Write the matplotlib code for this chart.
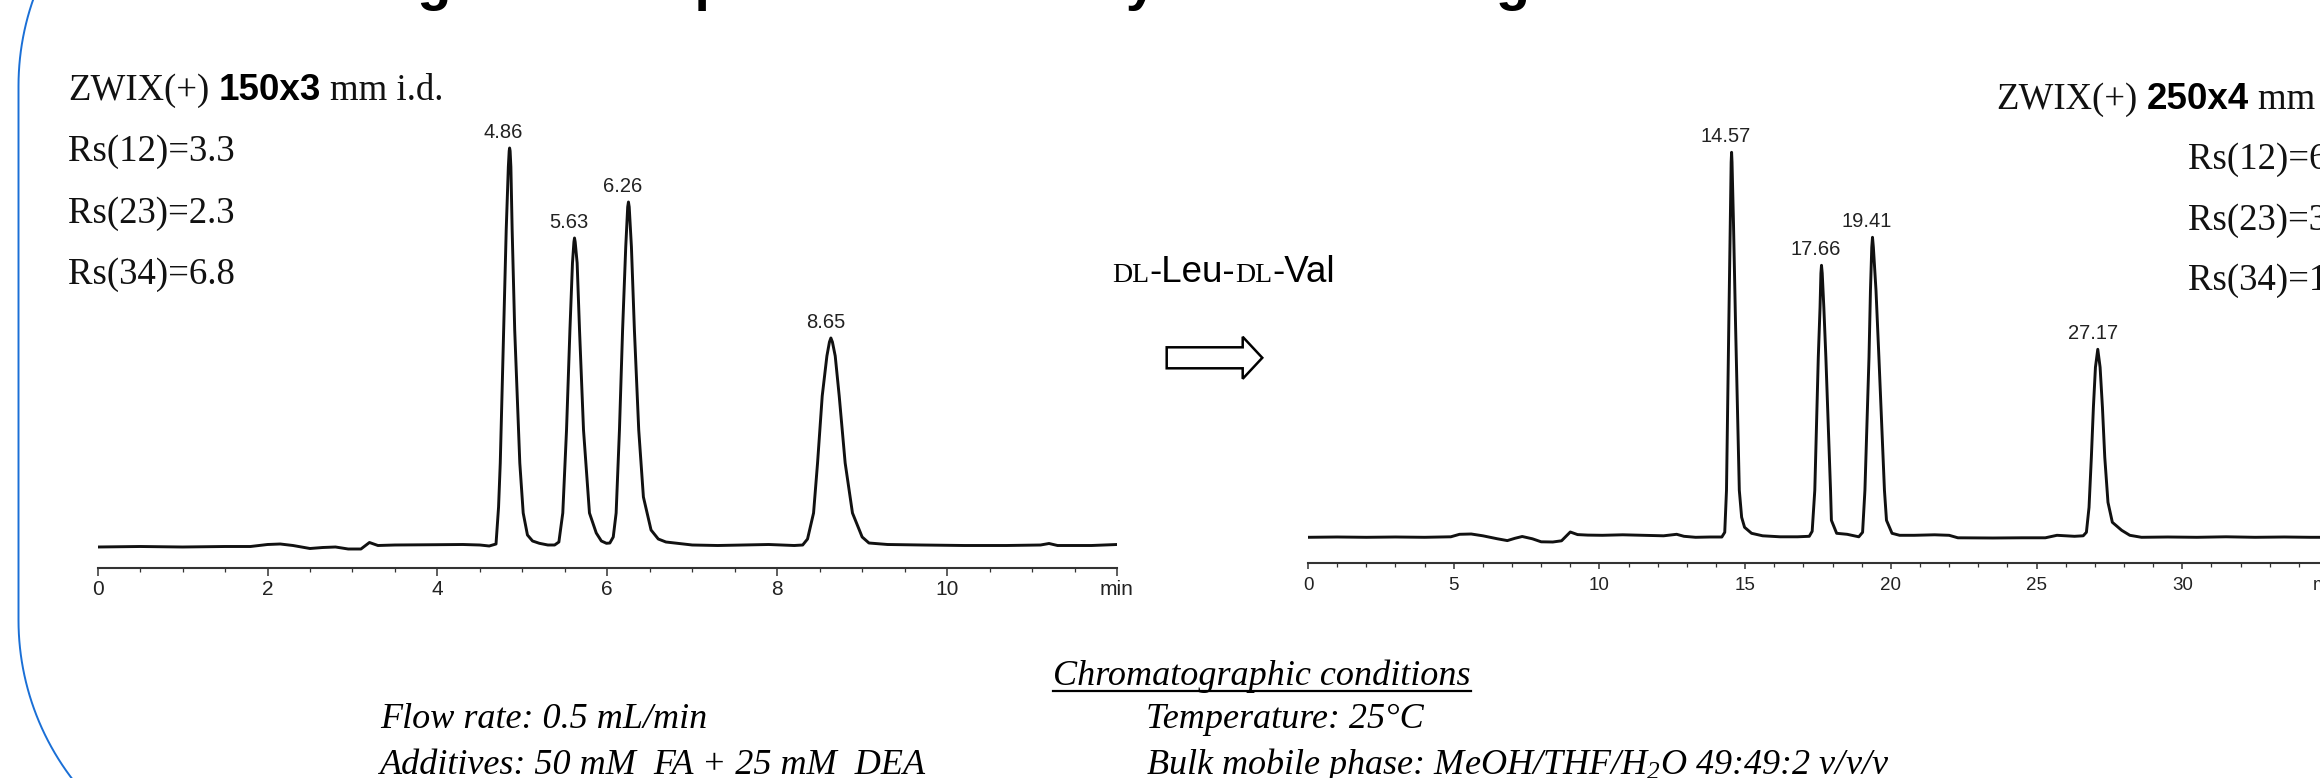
import numpy as np
import matplotlib
matplotlib.use('Agg')
import matplotlib.pyplot as plt
from matplotlib.patches import FancyArrow

W, H = 2320, 778

# DL-Leu-DL-Val on ZWIX(+) 150x3 mm (time in min, detector signal in a.u.)
left_time = [0.0, 0.5, 1.0, 1.5, 1.8, 2.0, 2.15, 2.3, 2.5, 2.65, 2.8, 2.95, 3.1, 3.2, 3.3, 3.5,
             4.0, 4.3, 4.5, 4.61, 4.69,
             4.72, 4.74, 4.78, 4.81, 4.835, 4.845, 4.85, 4.856, 4.865, 4.88, 4.91, 4.97, 5.01,
             5.06, 5.12, 5.20, 5.30, 5.38, 5.43,
             5.476, 5.52, 5.56, 5.59, 5.607, 5.614, 5.622, 5.645, 5.673, 5.72, 5.79, 5.87,
             5.93, 5.99, 6.03, 6.07,
             6.104, 6.143, 6.18, 6.217, 6.24, 6.249, 6.258, 6.284, 6.319, 6.37, 6.425, 6.515,
             6.60, 6.69, 7.0, 7.3, 7.6, 7.9, 8.2, 8.3,
             8.357, 8.428, 8.475, 8.53, 8.585, 8.615, 8.632, 8.65, 8.683, 8.73, 8.80, 8.886,
             9.0, 9.08, 9.3, 9.7, 10.2, 10.7, 11.1, 11.2, 11.3, 11.7, 12.0]
left_signal = [0, 0.5, 0, 0.5, 0.5, 2.5, 3, 1.5, -1.5, -0.5, 0, -2, -2, 4.5, 1.5, 2,
               2.3, 2.5, 2, 1, 3,
               40, 84, 217, 317, 380, 396, 399, 396, 380, 317, 217, 84, 34,
               12, 6, 3.7, 2, 2, 5,
               34, 117, 217, 284, 305, 309, 305, 284, 217, 117, 34, 14,
               6, 3.7, 4, 10,
               34, 117, 217, 300, 340, 345, 340, 300, 217, 117, 50, 17,
               8, 5, 2, 1.5, 2, 2.5, 1.5, 2,
               8, 34, 84, 151, 191, 205, 209, 205, 191, 151, 84, 34,
               10, 4, 2.5, 2, 1.5, 1.5, 2, 3.5, 1.5, 1.5, 2.5]
left_peaks = [4.86, 5.63, 6.26, 8.65]
left_ticks = [0, 2, 4, 6, 8, 10, 12]
left_ticklabels = ['0', '2', '4', '6', '8', '10', 'min']
left_rs = ['Rs(12)=3.3', 'Rs(23)=2.3', 'Rs(34)=6.8']

# same sample on ZWIX(+) 250x4 mm
right_time = [0, 1, 2, 3, 4, 4.9, 5.2, 5.6, 6.0, 6.5, 6.84, 7.1, 7.35, 7.7, 8.0, 8.4, 8.7,
              9.0, 9.25, 9.6, 10.1, 10.8, 11.5, 12.2, 12.65, 12.9, 13.3, 13.8, 14.2,
              14.30, 14.36, 14.44, 14.49, 14.52, 14.535, 14.55, 14.60, 14.67, 14.80, 14.88,
              14.98, 15.22, 15.6, 16.2, 16.8, 17.2,
              17.30, 17.39, 17.51, 17.57, 17.60, 17.62, 17.645, 17.70, 17.77, 17.93, 17.96,
              18.14, 18.5, 18.9,
              19.03, 19.11, 19.25, 19.30, 19.345, 19.37, 19.40, 19.49, 19.59, 19.78, 19.85,
              20.04, 20.3, 20.8, 21.5, 22.0, 22.3, 23.5, 24.5, 25.3, 25.7, 26.3, 26.6,
              26.71, 26.80, 26.88, 26.95, 27.02, 27.10, 27.18, 27.26, 27.34, 27.45, 27.6,
              27.92, 28.2, 28.6, 29.5, 30.5, 31.5, 32.5, 33.5, 34.4, 35.0]
right_signal = [0, 0.3, 0, 0.3, 0, 0.5, 3, 3.3, 1.5, -1.5, -3.3, -1, 0.8, -1.5, -4.5, -4.7, -3.5,
                5.3, 2.7, 2.2, 2, 2.5, 2, 1.5, 3, 1, 0, 0.3, 0.3,
                5, 47, 214, 314, 375, 385, 375, 314, 214, 47, 20,
                10, 4, 1.5, 0.5, 0.5, 1,
                6, 47, 180, 230, 264, 272, 264, 230, 180, 47, 17,
                4, 3, 0.5,
                5, 47, 180, 247, 290, 300, 290, 247, 180, 47, 17,
                4, 2, 2, 2.5, 2, -0.5, -0.7, -0.5, -0.5, 2, 1, 1.5,
                5, 30, 80, 130, 170, 188, 170, 130, 80, 35, 15,
                7, 2, 0, 0.3, 0, 0.5, 0, 0.3, 0, 0]
right_peaks = [14.57, 17.66, 19.41, 27.17]
right_ticks = [0, 5, 10, 15, 20, 25, 30, 35]
right_ticklabels = ['0', '5', '10', '15', '20', '25', '30', 'min']
right_rs = ['Rs(12)=6.2', 'Rs(23)=3.6', 'Rs(34)=13.1']

title = 'Scaling of the separation mode by an increasing column size'
conditions = [('Flow rate: 0.5 mL/min', 'Temperature: 25°C'),
              ('Additives: 50 mM  FA + 25 mM  DEA', 'Bulk mobile phase: MeOH/THF/H$_2$O 49:49:2 v/v/v')]

plt.rcParams['mathtext.fontset'] = 'custom'
plt.rcParams['mathtext.rm'] = 'Liberation Serif:italic'
plt.rcParams['mathtext.it'] = 'Liberation Serif:italic'

SERIF = 'Liberation Serif'
SANS = 'Liberation Sans'

fig = plt.figure(figsize=(W / 100, H / 100), dpi=100)
bg = fig.add_axes([0, 0, 1, 1])
bg.set_xlim(0, W)
bg.set_ylim(H, 0)
bg.axis('off')
renderer = fig.canvas.get_renderer()


def put_row(x, y, pieces):
    # pieces drawn one after another on the same baseline
    for s, kw, gap in pieces:
        t = bg.text(x, y, s, ha='left', va='baseline', **kw)
        x += t.get_window_extent(renderer).width + gap
    return x


def chromatogram(x0, x1, y_axis, y_base, t_max, time, signal, peaks, ticks, ticklabels,
                 minor, tick_fs, major_len, minor_len, pad):
    y_top = 110
    ax = fig.add_axes([x0 / W, 1 - y_axis / H, (x1 - x0) / W, (y_axis - y_top) / H])
    ax.patch.set_visible(False)
    ax.set_xlim(0, t_max)
    ax.set_ylim(-(y_axis - y_base), y_base - y_top)
    ax.plot(time, signal, color='#111111', lw=2.1, solid_joinstyle='round')
    for side in ['left', 'right', 'top']:
        ax.spines[side].set_visible(False)
    ax.spines['bottom'].set_color('#333333')
    ax.spines['bottom'].set_linewidth(1.5)
    ax.set_yticks([])
    ax.set_xticks(ticks)
    ax.set_xticklabels(ticklabels)
    ax.set_xticks(np.arange(0, t_max + 0.01, minor), minor=True)
    ax.tick_params(axis='x', which='major', length=major_len, width=1.1, color='#333333',
                   pad=pad, labelsize=tick_fs, labelcolor='#222222')
    ax.tick_params(axis='x', which='minor', length=minor_len, width=0.9, color='#333333')
    for lab in ax.get_xticklabels():
        lab.set_family(SANS)
    t = np.array(time)
    s = np.array(signal)
    for rt in peaks:
        top = s[np.abs(t - rt) < 0.2].max()
        ax.annotate(f'{rt:.2f}', xy=(rt, top), xytext=(-5, 7.5), textcoords='offset points',
                    ha='center', va='baseline', fontsize=14.5, family=SANS, color='#222222')
    return ax


chromatogram(97.6, 1117, 568, 547, 12, left_time, left_signal, left_peaks,
             left_ticks, left_ticklabels, 0.5, 15, 5.4, 3.2, 3.5)
chromatogram(1308, 2328, 562.7, 537.3, 35, right_time, right_signal, right_peaks,
             right_ticks, right_ticklabels, 1, 13.5, 4.3, 2.9, 6)

# rounded slide frame (left side only is in view)
R = 262
th = np.linspace(0, np.pi / 2, 60)
frame_x = np.concatenate([18.5 + R - R * np.cos(th[::-1]), 18.5 + R - R * np.cos(th)])
frame_y = np.concatenate([86 - R * np.sin(th[::-1]), 620 + R * np.sin(th)])
bg.plot(frame_x, frame_y, color='#1a6fd6', lw=1.4)

# title, mostly above the visible area
bg.text(254, -1, title, ha='left', va='baseline', fontsize=40, weight='bold', family=SANS)

serif = dict(fontsize=26.5, family=SERIF, color='#111111')
bold = dict(fontsize=26.5, family=SANS, weight='bold', color='black')
put_row(68, 100, [('ZWIX(+)', serif, 9), ('150x3', bold, 9), ('mm i.d.', serif, 0)])
for i, r in enumerate(left_rs):
    bg.text(68, 161 + i * 61.6, r, ha='left', va='baseline', **serif)

put_row(1996.7, 109.3, [('ZWIX(+)', serif, 9), ('250x4', bold, 9), ('mm i.d.', serif, 0)])
for i, r in enumerate(right_rs):
    bg.text(2188, 169.3 + i * 60.5, r, ha='left', va='baseline', **serif)

# analyte name, DL in small capitals
sc = dict(fontsize=20, family=SERIF, color='black')
big = dict(fontsize=26.5, family=SANS, color='black')
put_row(1112, 282, [('DL', sc, 0), ('-Leu-', big, 0), ('DL', sc, 0), ('-Val', big, 0)])

bg.add_patch(FancyArrow(1166.7, 357.8, 95.6, 0, width=21, head_width=42, head_length=19.6,
                        length_includes_head=True, fc='white', ec='black', lw=1.8))

# chromatographic conditions
ital = dict(fontsize=26, family=SERIF, style='italic', color='black')
head = bg.text(1053, 685, 'Chromatographic conditions', ha='left', va='baseline', **ital)
bb = head.get_window_extent(renderer)
bg.plot([bb.x0, bb.x1], [691, 691], color='black', lw=1.6)
for i, (a, b) in enumerate(conditions):
    bg.text(380, 728 + i * 46, a, ha='left', va='baseline', **ital)
    bg.text(1146, 728 + i * 46, b, ha='left', va='baseline', **ital)

fig.savefig('out.png', dpi=100)
